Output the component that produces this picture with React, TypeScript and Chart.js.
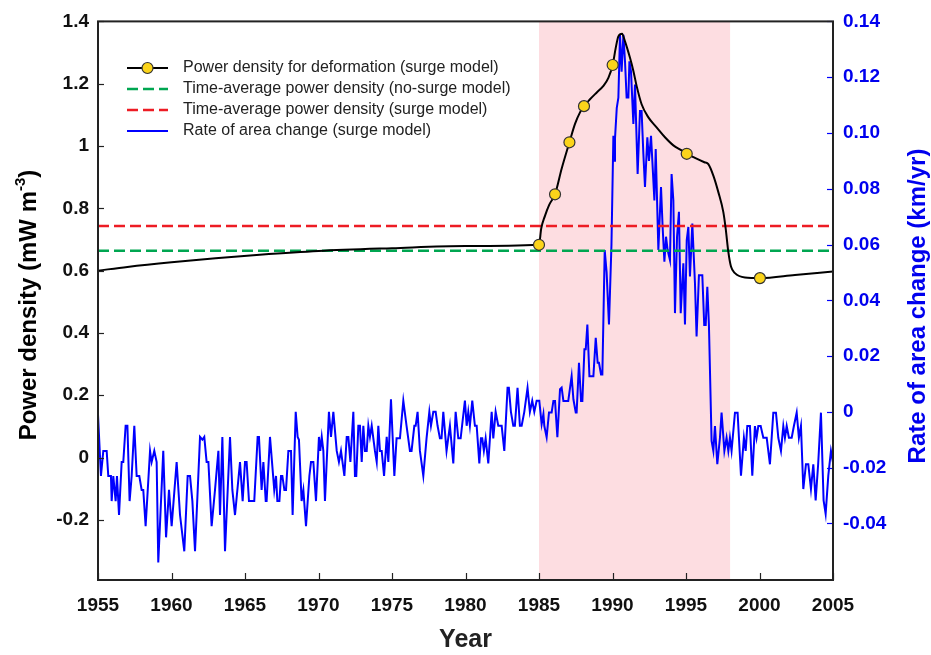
import React, { useEffect, useRef } from 'react';
import { Chart, registerables } from 'chart.js';

Chart.register(...registerables);

// ---- Data ----
const blueYears = [
  1955.00, 1955.20, 1955.36, 1955.59, 1955.70, 1955.88, 1955.93, 1956.04, 1956.20, 1956.29,
  1956.43, 1956.61, 1956.72, 1956.88, 1957.00, 1957.15, 1957.29, 1957.47, 1957.63, 1957.81,
  1957.97, 1958.08, 1958.24, 1958.54, 1958.65, 1958.83, 1958.99, 1959.10, 1959.44, 1959.63,
  1959.83, 1960.01, 1960.35, 1960.58, 1960.87, 1961.10, 1961.26, 1961.42, 1961.60, 1961.94,
  1962.10, 1962.23, 1962.39, 1962.51, 1962.73, 1962.96, 1963.19, 1963.30, 1963.46, 1963.64,
  1963.98, 1964.14, 1964.32, 1964.66, 1964.84, 1965.00,
  1965.11, 1965.27, 1965.63, 1965.86, 1965.95, 1966.13, 1966.25, 1966.41, 1966.47, 1966.70,
  1966.99, 1967.11, 1967.20, 1967.34, 1967.45, 1967.54, 1967.68, 1967.79, 1967.95, 1968.13,
  1968.24, 1968.45, 1968.58, 1968.67, 1968.85, 1968.97, 1969.15, 1969.38, 1969.49, 1969.65,
  1969.83, 1970.03, 1970.12, 1970.22, 1970.33, 1970.44, 1970.71, 1970.85, 1971.01, 1971.24,
  1971.39, 1971.53, 1971.76, 1971.92, 1972.03, 1972.17, 1972.37, 1972.48, 1972.57, 1972.71,
  1972.82, 1972.94, 1973.05, 1973.16, 1973.28, 1973.39, 1973.50, 1973.62, 1973.84, 1973.96,
  1974.07, 1974.18, 1974.30, 1974.46, 1974.64, 1974.75, 1974.93, 1975.16,
  1975.31, 1975.54, 1975.77, 1975.99, 1976.22, 1976.33, 1976.52, 1976.61, 1976.74, 1976.90,
  1977.13, 1977.35, 1977.54, 1977.65, 1977.81, 1977.97, 1978.10, 1978.26, 1978.37, 1978.49,
  1978.71, 1978.94, 1979.17, 1979.33, 1979.51, 1979.67, 1979.96, 1980.08, 1980.19, 1980.30,
  1980.46, 1980.64, 1980.76, 1980.94, 1981.05, 1981.14, 1981.25, 1981.37, 1981.55, 1981.78,
  1981.89, 1982.05, 1982.23, 1982.46, 1982.64, 1982.86, 1982.95, 1983.09, 1983.25, 1983.36,
  1983.54, 1983.70, 1983.82, 1984.00, 1984.22, 1984.38, 1984.54, 1984.68, 1984.84, 1985.02,
  1985.18, 1985.30, 1985.36, 1985.52, 1985.68, 1985.86, 1985.98, 1986.09, 1986.25, 1986.43,
  1986.54, 1986.66, 1986.88, 1986.99, 1987.22, 1987.34, 1987.50, 1987.56, 1987.72, 1987.86,
  1987.95, 1988.09, 1988.18, 1988.29, 1988.43, 1988.70, 1988.86, 1988.99, 1989.08, 1989.22,
  1989.31, 1989.47, 1989.60, 1989.76, 1989.93, 1990.06, 1990.13, 1990.17, 1990.29, 1990.40,
  1990.51, 1990.62, 1990.74, 1990.85, 1990.96, 1991.08, 1991.15, 1991.26, 1991.42, 1991.53,
  1991.71, 1991.87, 1991.98, 1992.10, 1992.21, 1992.37, 1992.48, 1992.62, 1992.71, 1992.85,
  1992.94, 1993.12, 1993.30, 1993.41, 1993.53, 1993.64, 1993.75, 1993.91, 1994.02, 1994.14,
  1994.25, 1994.39, 1994.52, 1994.64, 1994.82, 1994.93, 1995.05, 1995.16, 1995.27, 1995.43,
  1995.61, 1995.72, 1995.88, 1996.11, 1996.24, 1996.34, 1996.45, 1996.56, 1996.74, 1996.86,
  1996.97, 1997.13, 1997.31, 1997.42, 1997.61, 1997.76, 1997.88, 1997.99, 1998.10, 1998.33,
  1998.51, 1998.74, 1998.94, 1999.06, 1999.17, 1999.35, 1999.51, 1999.69, 1999.80, 1999.92,
  2000.08, 2000.26, 2000.49, 2000.71, 2000.94, 2001.12, 2001.28, 2001.46, 2001.62, 2001.73,
  2001.85, 2002.00, 2002.19, 2002.34, 2002.53, 2002.68, 2002.82, 2002.98, 2003.16, 2003.32,
  2003.50, 2003.66, 2003.82, 2003.99, 2004.18, 2004.36, 2004.50, 2004.68, 2004.86, 2005.00,
];
const blueRates = [
  -0.001, -0.023, -0.014, -0.014, -0.023, -0.023, -0.032, -0.023, -0.032, -0.023,
  -0.037, -0.018, -0.018, -0.005, -0.005, -0.032, -0.023, -0.005, -0.023, -0.023,
  -0.028, -0.028, -0.041, -0.014, -0.018, -0.014, -0.018, -0.054, -0.014, -0.045,
  -0.028, -0.041, -0.018, -0.037, -0.050, -0.023, -0.023, -0.032, -0.050, -0.009,
  -0.010, -0.009, -0.018, -0.018, -0.041, -0.028, -0.014, -0.037, -0.009, -0.050,
  -0.009, -0.028, -0.037, -0.018, -0.032, -0.018,
  -0.018, -0.032, -0.032, -0.009, -0.009, -0.028, -0.018, -0.032, -0.032, -0.009,
  -0.028, -0.023, -0.032, -0.032, -0.023, -0.023, -0.028, -0.028, -0.014, -0.014,
  -0.037, 0.000, -0.009, -0.010, -0.032, -0.028, -0.041, -0.023, -0.018, -0.018,
  -0.032, -0.009, -0.014, -0.009, -0.014, -0.032, 0.000, -0.009, 0.000, -0.014,
  -0.018, -0.014, -0.023, -0.009, -0.009, -0.018, 0.000, -0.023, -0.023, -0.005,
  -0.005, -0.018, -0.005, -0.014, -0.014, -0.005, -0.009, -0.005, -0.014, -0.018,
  -0.005, -0.014, -0.014, -0.023, -0.009, -0.018, 0.0045, -0.023,
  -0.0095, -0.0095, 0.004, -0.005, -0.014, -0.014, -0.005, -0.005, 0.000, -0.014,
  -0.023, -0.0095, 0.000, -0.005, 0.000, 0.000, -0.005, -0.0095, -0.0095, 0.000,
  -0.014, -0.005, -0.0185, 0.000, -0.0095, -0.0095, 0.004, -0.005, 0.000, -0.005,
  0.004, -0.005, -0.005, -0.0185, -0.0095, -0.0095, -0.014, -0.0095, -0.0185, 0.000,
  -0.0095, 0.000, -0.005, -0.005, -0.014, 0.0086, 0.0086, 0.000, -0.005, -0.005,
  0.0086, -0.005, -0.005, 0.000, 0.0086, 0.000, 0.004, 0.000, 0.004, 0.004,
  -0.0044, -0.0008, -0.005, -0.0091, -0.0002, -0.0002, 0.0039, 0.0039, -0.0091, 0.0081,
  0.0087, 0.0039, 0.0039, 0.0039, 0.0128, 0.0045, -0.0002, -0.0002, 0.0176, 0.0039,
  0.0039, 0.0224, 0.0224, 0.0313, 0.0128, 0.0128, 0.0265, 0.0176, 0.0176, 0.0134,
  0.0134, 0.058, 0.050, 0.0313, 0.060, 0.099, 0.090, 0.098, 0.109, 0.1127,
  0.1352, 0.122, 0.1352, 0.1257, 0.1127, 0.1127, 0.1257, 0.122, 0.1032, 0.1174,
  0.0853, 0.1079, 0.1079, 0.0925, 0.0806, 0.0984, 0.090, 0.099, 0.090, 0.0758,
  0.0942, 0.058, 0.0806, 0.0663, 0.0538, 0.0628, 0.058, 0.0544, 0.0853, 0.0758,
  0.0354, 0.0628, 0.0717, 0.0354, 0.0533, 0.0313, 0.0616, 0.0663, 0.0485, 0.0675,
  0.0461, 0.027, 0.049, 0.049, 0.0311, 0.0311, 0.0448, 0.0311, -0.0104, -0.014,
  -0.0051, -0.0188, -0.0093, -0.0003, -0.014, -0.0093, -0.014, -0.0093, -0.014, -0.0003,
  -0.0003, -0.0229, -0.0093, -0.014, -0.0051, -0.0051, -0.0229, -0.0051, -0.0093, -0.0051,
  -0.0051, -0.0093, -0.0093, -0.0188, -0.0003, -0.0003, -0.0093, -0.014, -0.0051, -0.0093,
  -0.0051, -0.0093, -0.0093, -0.0051, -0.0003, -0.0093, -0.0051, -0.0277, -0.0188, -0.0188,
  -0.0277, -0.0188, -0.0318, -0.0188, -0.0003, -0.0318, -0.0366, -0.0229, -0.014, -0.0182,
];

const curveYears = [
  1955, 1957, 1960, 1963, 1966, 1970, 1975, 1980, 1985.0,
  1985.15, 1985.4, 1985.7, 1986.09, 1986.54, 1987.07, 1987.45, 1987.79, 1988.06, 1988.47, 1988.93,
  1989.38, 1989.72, 1990.01, 1990.22, 1990.40, 1990.65, 1990.85, 1991.19, 1991.42, 1991.64,
  1991.98, 1992.44, 1993.0, 1993.57, 1994.14, 1994.7, 1995.05, 1995.61, 1996.25, 1996.52,
  1996.86, 1997.2, 1997.54, 1997.7, 1997.88, 1998.06, 1998.33, 1999.01, 2000.03, 2002.41, 2005,
];
const curveDensity = [
  0.600, 0.612, 0.627, 0.640, 0.651, 0.663, 0.672, 0.679, 0.683,
  0.735, 0.775, 0.812, 0.845, 0.927, 1.012, 1.071, 1.108, 1.128, 1.150, 1.172,
  1.193, 1.219, 1.260, 1.315, 1.352, 1.360, 1.336, 1.283, 1.241, 1.193,
  1.134, 1.092, 1.060, 1.028, 1.002, 0.986, 0.975, 0.962, 0.948, 0.942,
  0.905, 0.852, 0.788, 0.735, 0.660, 0.613, 0.592, 0.578, 0.576, 0.586, 0.597,
];

const markerYears = [1985.0, 1986.09, 1987.07, 1988.06, 1990.01, 1995.05, 2000.03];
const markerDensity = [0.683, 0.845, 1.012, 1.128, 1.260, 0.975, 0.576];

const noSurgeAverage = 0.664;
const surgeAverage = 0.743;

const surgeStart = 1985;
const surgeEnd = 1998;

const xTickValues = [1955, 1960, 1965, 1970, 1975, 1980, 1985, 1990, 1995, 2000, 2005];
const leftTickValues = [-0.2, 0, 0.2, 0.4, 0.6, 0.8, 1, 1.2, 1.4];
const leftTickLabels = ['-0.2', '0', '0.2', '0.4', '0.6', '0.8', '1', '1.2', '1.4'];
const rightTickValues = [-0.04, -0.02, 0, 0.02, 0.04, 0.06, 0.08, 0.1, 0.12, 0.14];
const rightTickLabels = ['-0.04', '-0.02', '0', '0.02', '0.04', '0.06', '0.08', '0.10', '0.12', '0.14'];

const legendLabels = [
  'Power density for deformation (surge model)',
  'Time-average power density (no-surge model)',
  'Time-average power density (surge model)',
  'Rate of area change (surge model)',
];

const BLUE = '#0000ff';
const BLUE_TEXT = '#0000ee';
const GREEN = '#00a651';
const RED = '#ed1c24';
const YELLOW = '#fbd41a';
const PINK = '#fddde1';
const SANS = "'Liberation Sans', Arial, sans-serif";
const NARROW = "'Liberation Sans Narrow', 'Arial Narrow', 'Liberation Sans', sans-serif";

function lookup(values: number[], labels: string[], v: number) {
  const i = values.findIndex((t) => Math.abs(t - v) < 1e-9);
  return i >= 0 ? labels[i] : '';
}

const decorPlugin = {
  id: 'decor',
  beforeDatasetsDraw(chart: any) {
    const { ctx, chartArea, scales } = chart;
    const x0 = scales.x.getPixelForValue(surgeStart);
    const x1 = scales.x.getPixelForValue(surgeEnd);
    ctx.save();
    ctx.fillStyle = PINK;
    ctx.fillRect(x0, chartArea.top, x1 - x0, chartArea.bottom - chartArea.top);
    ctx.restore();
  },
  afterDraw(chart: any) {
    const { ctx, chartArea, scales } = chart;
    const { left, right, top, bottom } = chartArea;
    ctx.save();
    // inward ticks
    ctx.lineWidth = 1.2;
    ctx.strokeStyle = '#222';
    xTickValues.forEach((v) => {
      const px = Math.round(scales.x.getPixelForValue(v)) + 0.5;
      ctx.beginPath();
      ctx.moveTo(px, bottom);
      ctx.lineTo(px, bottom - 7);
      ctx.stroke();
    });
    leftTickValues.forEach((v) => {
      const py = Math.round(scales.y.getPixelForValue(v)) + 0.5;
      ctx.beginPath();
      ctx.moveTo(left, py);
      ctx.lineTo(left + 6, py);
      ctx.stroke();
    });
    ctx.strokeStyle = BLUE;
    rightTickValues.forEach((v) => {
      const py = Math.round(scales.y1.getPixelForValue(v)) + 0.5;
      ctx.beginPath();
      ctx.moveTo(right, py);
      ctx.lineTo(right - 6, py);
      ctx.stroke();
    });
    // frame
    ctx.strokeStyle = '#222';
    ctx.lineWidth = 2;
    ctx.strokeRect(left, top, right - left, bottom - top);

    // legend
    const rows = [68, 89, 110, 131];
    const lx0 = 127;
    const lx1 = 168;
    rows.forEach((ry, i) => {
      ctx.save();
      ctx.lineWidth = i === 0 || i === 3 ? 2 : 2.5;
      ctx.strokeStyle = i === 0 ? '#000' : i === 1 ? GREEN : i === 2 ? RED : BLUE;
      ctx.setLineDash(i === 1 || i === 2 ? [11, 5] : []);
      ctx.beginPath();
      ctx.moveTo(lx0, ry);
      ctx.lineTo(lx1, ry);
      ctx.stroke();
      ctx.restore();
      if (i === 0) {
        ctx.beginPath();
        ctx.arc((lx0 + lx1) / 2, ry, 5.5, 0, Math.PI * 2);
        ctx.fillStyle = YELLOW;
        ctx.fill();
        ctx.lineWidth = 1.2;
        ctx.strokeStyle = '#333';
        ctx.stroke();
      }
      ctx.fillStyle = '#222';
      ctx.font = `16px ${SANS}`;
      ctx.textAlign = 'left';
      ctx.textBaseline = 'middle';
      ctx.fillText(legendLabels[i], 183, ry);
    });

    // x title
    ctx.fillStyle = '#222';
    ctx.font = `bold 25px ${NARROW}`;
    ctx.textAlign = 'center';
    ctx.textBaseline = 'middle';
    ctx.fillText('Year', (left + right) / 2, 640);

    // left title with superscript
    ctx.save();
    ctx.translate(27, 305);
    ctx.rotate(-Math.PI / 2);
    const mainFont = `bold 24px ${SANS}`;
    const supFont = `bold 15px ${SANS}`;
    const p1 = 'Power density (mW m';
    const p2 = '-3';
    const p3 = ')';
    ctx.font = mainFont;
    const w1 = ctx.measureText(p1).width;
    const w3 = ctx.measureText(p3).width;
    ctx.font = supFont;
    const w2 = ctx.measureText(p2).width;
    const total = w1 + w2 + w3;
    let cx = -total / 2;
    ctx.textAlign = 'left';
    ctx.textBaseline = 'alphabetic';
    ctx.fillStyle = '#000';
    ctx.font = mainFont;
    ctx.fillText(p1, cx, 9);
    cx += w1;
    ctx.font = supFont;
    ctx.fillText(p2, cx, -2);
    cx += w2;
    ctx.font = mainFont;
    ctx.fillText(p3, cx, 9);
    ctx.restore();

    // right title
    ctx.save();
    ctx.translate(916, 306);
    ctx.rotate(-Math.PI / 2);
    ctx.fillStyle = BLUE_TEXT;
    ctx.font = `bold 24px ${SANS}`;
    ctx.textAlign = 'center';
    ctx.textBaseline = 'alphabetic';
    ctx.fillText('Rate of area change (km/yr)', 0, 9);
    ctx.restore();

    ctx.restore();
  },
};

export default function App() {
  const ref = useRef<HTMLCanvasElement | null>(null);

  useEffect(() => {
    document.body.style.margin = '0';
    const canvas = ref.current;
    if (!canvas) return;
    const chart = new Chart(canvas, {
      type: 'line',
      data: {
        datasets: [
          {
            label: legendLabels[0],
            data: curveYears.map((x, i) => ({ x, y: curveDensity[i] })),
            yAxisID: 'y',
            borderColor: '#000',
            borderWidth: 2,
            pointRadius: 0,
            cubicInterpolationMode: 'monotone',
            order: 1,
          },
          {
            label: 'markers',
            data: markerYears.map((x, i) => ({ x, y: markerDensity[i] })),
            yAxisID: 'y',
            showLine: false,
            pointRadius: 5.5,
            pointBackgroundColor: YELLOW,
            pointBorderColor: '#333',
            pointBorderWidth: 1.2,
            order: 0,
          },
          {
            label: legendLabels[1],
            data: [
              { x: 1955, y: noSurgeAverage },
              { x: 2005, y: noSurgeAverage },
            ],
            yAxisID: 'y',
            borderColor: GREEN,
            borderWidth: 2.5,
            borderDash: [11, 5],
            pointRadius: 0,
            order: 2,
          },
          {
            label: legendLabels[2],
            data: [
              { x: 1955, y: surgeAverage },
              { x: 2005, y: surgeAverage },
            ],
            yAxisID: 'y',
            borderColor: RED,
            borderWidth: 2.5,
            borderDash: [11, 5],
            pointRadius: 0,
            order: 2,
          },
          {
            label: legendLabels[3],
            data: blueYears.map((x, i) => ({ x, y: blueRates[i] })),
            yAxisID: 'y1',
            borderColor: BLUE,
            borderWidth: 2,
            pointRadius: 0,
            tension: 0,
            order: 3,
          },
        ],
      },
      options: {
        responsive: false,
        animation: false,
        events: [],
        layout: { padding: { top: 18, left: 0, right: 0, bottom: 0 } },
        plugins: { legend: { display: false }, tooltip: { enabled: false } },
        scales: {
          x: {
            type: 'linear',
            min: 1955,
            max: 2005,
            grid: { display: false, drawTicks: false },
            border: { display: false },
            afterBuildTicks: (s: any) => {
              s.ticks = xTickValues.map((v) => ({ value: v }));
            },
            afterFit: (s: any) => {
              s.height = 75;
            },
            ticks: {
              autoSkip: false,
              maxRotation: 0,
              padding: 14,
              color: '#111',
              font: { family: NARROW, size: 19, weight: 'bold' },
              callback: (v: any) => String(v),
            },
          },
          y: {
            type: 'linear',
            position: 'left',
            min: -0.393,
            max: 1.4,
            grid: { display: false, drawTicks: false },
            border: { display: false },
            afterBuildTicks: (s: any) => {
              s.ticks = leftTickValues.map((v) => ({ value: v }));
            },
            afterFit: (s: any) => {
              s.width = 98;
            },
            ticks: {
              padding: 9,
              color: '#111',
              font: { family: SANS, size: 19, weight: 'bold' },
              callback: (v: any) => lookup(leftTickValues, leftTickLabels, Number(v)),
            },
          },
          y1: {
            type: 'linear',
            position: 'right',
            min: -0.0603,
            max: 0.14,
            grid: { display: false, drawTicks: false },
            border: { display: false },
            afterBuildTicks: (s: any) => {
              s.ticks = rightTickValues.map((v) => ({ value: v }));
            },
            afterFit: (s: any) => {
              s.width = 98;
            },
            ticks: {
              padding: 10,
              color: BLUE_TEXT,
              font: { family: SANS, size: 19, weight: 'bold' },
              callback: (v: any) => lookup(rightTickValues, rightTickLabels, Number(v)),
            },
          },
        },
      },
      plugins: [decorPlugin],
    } as any);
    return () => chart.destroy();
  }, []);

  return (
    <div style={{ width: 931, height: 655, background: '#fff' }}>
      <canvas ref={ref} width={931} height={655} style={{ display: 'block' }} />
    </div>
  );
}
